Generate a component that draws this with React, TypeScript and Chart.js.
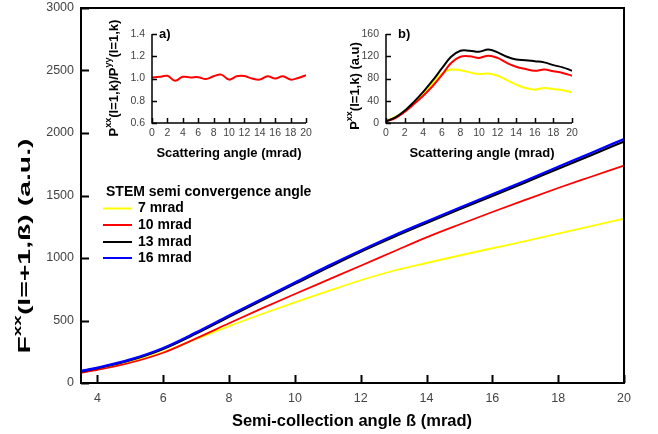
import React, { useEffect, useRef } from 'react';
import { Chart, registerables } from 'chart.js';
Chart.register(...registerables);

const FONT = "'Liberation Sans', Arial, Helvetica, sans-serif";

// ---- main chart data ----
const betaValues = [3.5, 4, 5, 6, 7, 8, 9, 10, 11, 12, 13, 14, 15, 16, 17, 18, 19, 20];
const fxx7 = [88, 112, 168, 248, 352, 455, 552, 645, 735, 822, 898, 960, 1020, 1078, 1135, 1195, 1255, 1314];
const fxx10 = [82, 105, 162, 242, 357, 478, 597, 712, 825, 938, 1052, 1165, 1268, 1368, 1465, 1560, 1650, 1740];
const fxx13 = [92, 119, 183, 273, 396, 530, 662, 793, 923, 1050, 1168, 1280, 1390, 1497, 1605, 1714, 1822, 1932];
const fxx16 = [95, 122, 188, 280, 405, 540, 672, 803, 935, 1060, 1180, 1292, 1402, 1510, 1618, 1730, 1840, 1952];
const seriesLabels = ['7 mrad', '10 mrad', '13 mrad', '16 mrad'];
const seriesColors = ['#ffff00', '#ff0000', '#000000', '#0000ff'];
const legendTitle = 'STEM semi convergence angle';
const mainXTicks = [4, 6, 8, 10, 12, 14, 16, 18, 20];
const mainYTicks = [0, 500, 1000, 1500, 2000, 2500, 3000];
const mainXTitle = 'Semi-collection angle ß (mrad)';

// ---- inset data ----
const scatterAngles = [0, 1, 2, 3, 4, 5, 6, 7, 8, 9, 10, 11, 12, 13, 14, 15, 16, 17, 18, 19, 20];
const ratioA = [1.01, 1.015, 1.024, 0.98, 1.015, 1.01, 1.012, 0.995, 1.02, 1.035, 0.99, 1.02, 1.022, 1.0, 0.99, 1.02, 1.0, 1.02, 0.99, 1.005, 1.03];
const pxx7 = [4, 11, 22, 37, 53, 71, 89, 96, 95, 91, 88, 89, 85, 77, 69, 63, 60, 63, 61, 59, 55];
const pxx10 = [3, 9, 20, 34, 49, 66, 86, 108, 119, 120, 117, 121, 117, 108, 101, 97, 94, 96, 93, 90, 85];
const pxx13 = [3, 10, 22, 38, 56, 76, 98, 119, 130, 130, 128, 132, 127, 119, 114, 113, 111, 109, 104, 100, 94];
const insetXTicks = [0, 2, 4, 6, 8, 10, 12, 14, 16, 18, 20];
const insetAYTicks = [0.6, 0.8, 1.0, 1.2, 1.4];
const insetBYTicks = [0, 40, 80, 120, 160];
const insetXTitle = 'Scattering angle (mrad)';

type Part = { t: string; sup?: boolean };

function drawRich(ctx: CanvasRenderingContext2D, parts: Part[], x: number, y: number, size: number, rotate: boolean, stretch: number) {
  ctx.save();
  const supSize = Math.round(size * 0.68);
  let total = 0;
  const widths = parts.map((p) => {
    ctx.font = `bold ${p.sup ? supSize : size}px ${FONT}`;
    const w = ctx.measureText(p.t).width;
    total += w;
    return w;
  });
  ctx.translate(x, y);
  if (rotate) ctx.rotate(-Math.PI / 2);
  ctx.scale(stretch, 1);
  ctx.fillStyle = '#000';
  ctx.textBaseline = 'middle';
  ctx.textAlign = 'left';
  let cx = -total / 2;
  parts.forEach((p, i) => {
    ctx.font = `bold ${p.sup ? supSize : size}px ${FONT}`;
    ctx.fillText(p.t, cx, p.sup ? -size * 0.42 : 0);
    cx += widths[i];
  });
  ctx.restore();
}

function fixedScales(yWidth: number, xHeight: number) {
  const zero = (s: any) => { s.paddingTop = 0; s.paddingBottom = 0; s.paddingLeft = 0; s.paddingRight = 0; };
  return {
    yFit: (s: any) => { s.width = yWidth; zero(s); },
    xFit: (s: any) => { s.height = xHeight; zero(s); },
  };
}

function makeAxisPlugin(opts: { tickLen: number; lineWidth: number; frame: boolean; xTicks: number[]; yTicks: number[]; extra: (c: Chart) => void }) {
  return {
    id: 'axesDraw',
    afterDraw(chart: Chart) {
      const ctx = chart.ctx;
      const a = chart.chartArea;
      const xs: any = chart.scales.x;
      const ys: any = chart.scales.y;
      ctx.save();
      ctx.strokeStyle = '#000';
      ctx.lineWidth = opts.lineWidth;
      ctx.beginPath();
      opts.xTicks.forEach((v) => {
        const px = Math.round(xs.getPixelForValue(v)) + 0.5;
        ctx.moveTo(px, a.bottom);
        ctx.lineTo(px, a.bottom - opts.tickLen);
      });
      opts.yTicks.forEach((v) => {
        const py = Math.round(ys.getPixelForValue(v)) + 0.5;
        ctx.moveTo(a.left, py);
        ctx.lineTo(a.left + opts.tickLen, py);
      });
      ctx.stroke();
      ctx.beginPath();
      if (opts.frame) {
        ctx.rect(a.left, a.top, a.right - a.left, a.bottom - a.top);
      } else {
        ctx.moveTo(a.left, a.top);
        ctx.lineTo(a.left, a.bottom);
        ctx.lineTo(a.right, a.bottom);
      }
      ctx.stroke();
      ctx.restore();
      opts.extra(chart);
    },
  };
}

function MainChart() {
  const ref = useRef<HTMLCanvasElement>(null);
  useEffect(() => {
    const seriesData = [fxx7, fxx10, fxx13, fxx16];
    const widths = [1.8, 1.8, 2.2, 2.4];
    const fit = fixedScales(81, 51);
    const chart = new Chart(ref.current!, {
      type: 'line',
      data: {
        datasets: seriesData.map((d, i) => ({
          label: seriesLabels[i],
          data: betaValues.map((b, j) => ({ x: b, y: d[j] })),
          borderColor: seriesColors[i],
          backgroundColor: seriesColors[i],
          borderWidth: widths[i],
          pointRadius: 0,
          cubicInterpolationMode: 'monotone' as const,
          order: 3 - i,
        })),
      },
      options: {
        animation: false,
        responsive: false,
        events: [],
        layout: { padding: { left: 0, top: 8, right: 34, bottom: 0 } },
        plugins: { legend: { display: false }, tooltip: { enabled: false } },
        scales: {
          x: {
            type: 'linear',
            min: 3.5,
            max: 20,
            afterFit: fit.xFit,
            afterBuildTicks: (s: any) => { s.ticks = mainXTicks.map((v) => ({ value: v })); },
            grid: { display: false, drawTicks: false },
            border: { display: false },
            ticks: { color: '#444', font: { family: FONT, size: 12.5 }, padding: 8, maxRotation: 0, autoSkip: false, callback: (v: any) => String(v) },
          },
          y: {
            type: 'linear',
            min: 0,
            max: 3000,
            afterFit: fit.yFit,
            afterBuildTicks: (s: any) => { s.ticks = mainYTicks.map((v) => ({ value: v })); },
            grid: { display: false, drawTicks: false },
            border: { display: false },
            ticks: { color: '#444', font: { family: FONT, size: 12.5 }, padding: 7, callback: (v: any) => String(v) },
          },
        },
      },
      plugins: [
        makeAxisPlugin({
          tickLen: 8,
          lineWidth: 2,
          frame: true,
          xTicks: mainXTicks,
          yTicks: mainYTicks,
          extra: (c) => {
            const ctx = c.ctx;
            drawRich(ctx, [{ t: 'F' }, { t: 'xx', sup: true }, { t: '(l=+1,ß) (a.u.)' }], 25, 246, 16.5, true, 1.72);
            drawRich(ctx, [{ t: mainXTitle }], 352, 421, 16.5, false, 1);
            // legend
            ctx.save();
            ctx.fillStyle = '#000';
            ctx.textBaseline = 'middle';
            ctx.textAlign = 'left';
            ctx.font = `bold 14px ${FONT}`;
            ctx.fillText(legendTitle, 106, 192);
            const ys = [208.5, 225, 242, 258];
            seriesLabels.forEach((lab, i) => {
              ctx.strokeStyle = seriesColors[i];
              ctx.lineWidth = 2;
              ctx.beginPath();
              ctx.moveTo(103, ys[i]);
              ctx.lineTo(132, ys[i]);
              ctx.stroke();
              ctx.fillStyle = '#000';
              ctx.fillText(lab, 138, ys[i]);
            });
            ctx.restore();
          },
        }) as any,
      ],
    });
    return () => chart.destroy();
  }, []);
  return <canvas ref={ref} width={658} height={434} style={{ position: 'absolute', left: 0, top: 0, display: 'block' }} />;
}

function InsetChart(props: {
  left: number; top: number; width: number; height: number;
  yWidth: number; padRight: number;
  series: number[][]; colors: string[];
  yMin: number; yMax: number; yTicks: number[];
  yTitle: Part[]; yTitlePos: [number, number];
  xTitlePos: [number, number];
  tag: string; tagPos: [number, number];
  yFmt: (v: number) => string;
}) {
  const ref = useRef<HTMLCanvasElement>(null);
  useEffect(() => {
    const fit = fixedScales(props.yWidth, 42);
    const chart = new Chart(ref.current!, {
      type: 'line',
      data: {
        datasets: props.series.map((d, i) => ({
          data: scatterAngles.map((x, j) => ({ x, y: d[j] })),
          borderColor: props.colors[i],
          borderWidth: 2,
          pointRadius: 0,
          tension: 0.4,
          order: props.series.length - i,
        })),
      },
      options: {
        animation: false,
        responsive: false,
        events: [],
        layout: { padding: { left: 0, top: 24, right: props.padRight, bottom: 0 } },
        plugins: { legend: { display: false }, tooltip: { enabled: false } },
        scales: {
          x: {
            type: 'linear',
            min: 0,
            max: 20,
            afterFit: fit.xFit,
            afterBuildTicks: (s: any) => { s.ticks = insetXTicks.map((v) => ({ value: v })); },
            grid: { display: false, drawTicks: false },
            border: { display: false },
            ticks: { color: '#444', font: { family: FONT, size: 10.5 }, padding: 4, maxRotation: 0, autoSkip: false, callback: (v: any) => String(v) },
          },
          y: {
            type: 'linear',
            min: props.yMin,
            max: props.yMax,
            afterFit: fit.yFit,
            afterBuildTicks: (s: any) => { s.ticks = props.yTicks.map((v) => ({ value: v })); },
            grid: { display: false, drawTicks: false },
            border: { display: false },
            ticks: { color: '#444', font: { family: FONT, size: 10.5 }, padding: 7, callback: (v: any) => props.yFmt(Number(v)) },
          },
        },
      },
      plugins: [
        makeAxisPlugin({
          tickLen: 5,
          lineWidth: 1.5,
          frame: false,
          xTicks: insetXTicks,
          yTicks: props.yTicks,
          extra: (c) => {
            const ctx = c.ctx;
            drawRich(ctx, props.yTitle, props.yTitlePos[0], props.yTitlePos[1], 13, true, 1);
            drawRich(ctx, [{ t: insetXTitle }], props.xTitlePos[0], props.xTitlePos[1], 13, false, 1);
            ctx.save();
            ctx.font = `bold 13px ${FONT}`;
            ctx.fillStyle = '#000';
            ctx.textBaseline = 'middle';
            ctx.textAlign = 'left';
            ctx.fillText(props.tag, props.tagPos[0], props.tagPos[1]);
            ctx.restore();
          },
        }) as any,
      ],
    });
    return () => chart.destroy();
  }, []);
  return (
    <canvas
      ref={ref}
      width={props.width}
      height={props.height}
      style={{ position: 'absolute', left: props.left, top: props.top, display: 'block' }}
    />
  );
}

export default function App() {
  return (
    <div style={{ position: 'fixed', left: 0, top: 0, width: 658, height: 434, background: '#fff', overflow: 'hidden' }}>
      <MainChart />
      <InsetChart
        left={100} top={10} width={215} height={155}
        yWidth={52} padRight={9}
        series={[ratioA]} colors={['#ff0000']}
        yMin={0.6} yMax={1.4} yTicks={insetAYTicks}
        yTitle={[{ t: 'P' }, { t: 'xx', sup: true }, { t: '(l=1,k)/P' }, { t: 'yy', sup: true }, { t: '(l=1,k)' }]}
        yTitlePos={[14, 68]}
        xTitlePos={[129, 143]}
        tag="a)" tagPos={[59, 24]}
        yFmt={(v) => v.toFixed(1)}
      />
      <InsetChart
        left={330} top={10} width={250} height={155}
        yWidth={56} padRight={8}
        series={[pxx7, pxx10, pxx13]} colors={['#ffff00', '#ff0000', '#000000']}
        yMin={0} yMax={160} yTicks={insetBYTicks}
        yTitle={[{ t: 'P' }, { t: 'xx', sup: true }, { t: '(l=1,k) (a.u)' }]}
        yTitlePos={[25, 76]}
        xTitlePos={[152, 143]}
        tag="b)" tagPos={[68, 24]}
        yFmt={(v) => String(v)}
      />
    </div>
  );
}
